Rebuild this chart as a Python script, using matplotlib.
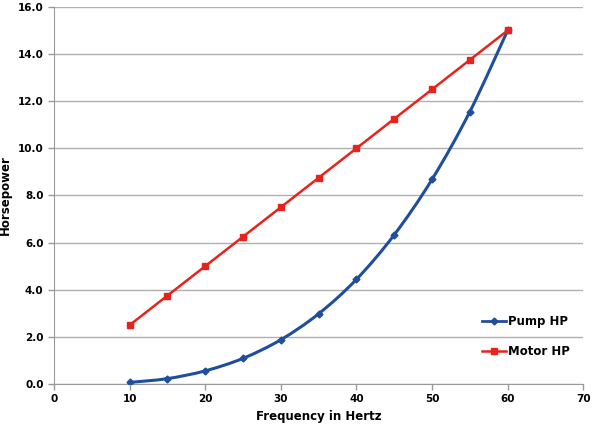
import matplotlib
matplotlib.use("Agg")
import matplotlib.pyplot as plt
from matplotlib.path import Path
from matplotlib.patches import PathPatch
from matplotlib.lines import Line2D
import numpy as np

freq = [10, 15, 20, 25, 30, 35, 40, 45, 50, 55, 60]
pump_hp = [0.07, 0.23, 0.56, 1.09, 1.88, 2.98, 4.44, 6.33, 8.68, 11.55, 15.0]
motor_hp = [2.5, 3.75, 5.0, 6.25, 7.5, 8.75, 10.0, 11.25, 12.5, 13.75, 15.0]
xticks = [0, 10, 20, 30, 40, 50, 60, 70]
yticks = [0, 2, 4, 6, 8, 10, 12, 14, 16]

blue = "#1F4E9E"
red = "#E8231B"

plt.rcParams['font.family'] = ['DejaVu Sans']
fig = plt.figure(figsize=(6, 4.32), dpi=100)
ax = fig.add_axes([0.09, 0.111, 0.882, 0.873])

# smooth (Catmull-Rom style) curve for pump series
x = np.array(freq, float); y = np.array(pump_hp, float)
verts = [(x[0], y[0])]; codes = [Path.MOVETO]
n = len(x)
for i in range(n - 1):
    p0 = (x[i-1], y[i-1]) if i > 0 else (x[i], y[i])
    p1 = (x[i], y[i]); p2 = (x[i+1], y[i+1])
    p3 = (x[i+2], y[i+2]) if i + 2 < n else (x[i+1], y[i+1])
    t = 1/6
    c1 = (p1[0] + (p2[0]-p0[0])*t, p1[1] + (p2[1]-p0[1])*t)
    c2 = (p2[0] - (p3[0]-p1[0])*t, p2[1] - (p3[1]-p1[1])*t)
    verts += [c1, c2, p2]; codes += [Path.CURVE4]*3
ax.add_patch(PathPatch(Path(verts, codes), facecolor='none', edgecolor=blue, lw=2.2, zorder=3))
ax.plot(freq, pump_hp, ls='none', marker='D', ms=3.5, color=blue, zorder=4)
ax.plot(freq, motor_hp, color=red, lw=1.8, marker='s', ms=5, zorder=5)

ax.set_xlim(0, 70); ax.set_ylim(0, 16)
ax.set_xticks(xticks); ax.set_yticks(yticks)
ax.set_yticklabels([f"{v:.1f}" for v in yticks])
ax.yaxis.grid(True, color='#B0B0B0', lw=1.0)
ax.set_axisbelow(True)
for s in ['top', 'right']:
    ax.spines[s].set_visible(False)
for s in ['left', 'bottom']:
    ax.spines[s].set_color('#999999')
ax.tick_params(axis='both', colors='#999999', labelcolor='black', labelsize=7.5, length=4, width=1)
for lbl in ax.get_xticklabels() + ax.get_yticklabels():
    lbl.set_fontweight('bold')
ax.set_xlabel('Frequency in Hertz', fontsize=8.5, fontweight='bold', labelpad=4)
ax.set_ylabel('Horsepower', fontsize=8.5, fontweight='bold', labelpad=4)

h1 = Line2D([], [], color=blue, lw=2, marker='D', ms=3.5)
h2 = Line2D([], [], color=red, lw=1.8, marker='s', ms=5)
ax.legend([h1, h2], ['Pump HP', 'Motor HP'], loc='upper left', bbox_to_anchor=(0.8, 0.195),
          frameon=False, prop={'weight': 'bold', 'size': 8.5}, handlelength=2.0,
          handletextpad=0.2, labelspacing=1.4, borderaxespad=0)

fig.savefig('out.png', dpi=100)
